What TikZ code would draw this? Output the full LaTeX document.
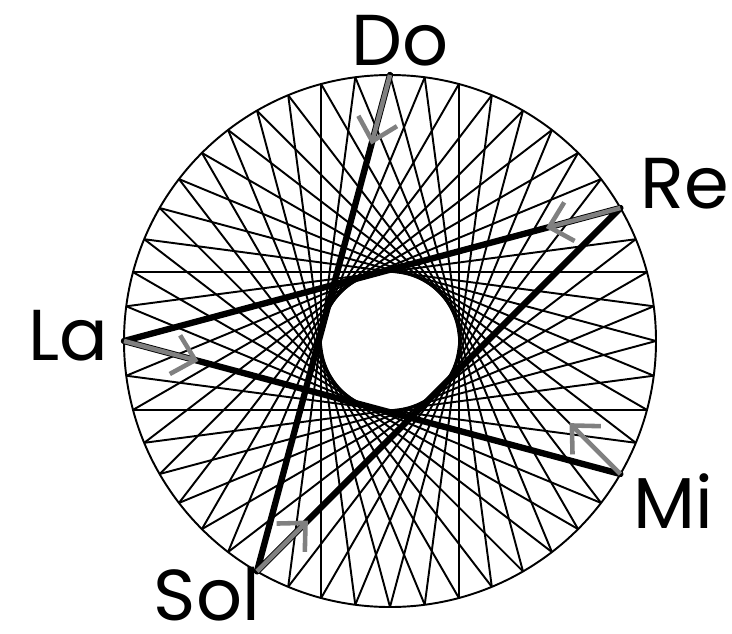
\documentclass[tikz,border=0pt]{standalone}
\usepackage{fontspec}
\setmainfont{Poppins}
\usetikzlibrary{calc,arrows.meta}

\begin{document}
\begin{tikzpicture}[x=0.02cm,y=0.02cm,
      chord/.style={line width=1.1pt},
      fifth/.style={line width=3.6pt,line cap=round,line join=round},
      hint/.style={draw=gray,line width=2.6pt,-{Straight Barb[length=0.42cm,width=0.8cm]}},
      note/.style={font=\fontsize{41}{48}\selectfont,inner sep=0pt}]
    \useasboundingbox (-390,-292) rectangle (342,341);
    \def\R{266}
    \foreach \i in {0,...,47}
      \coordinate (p\i) at ({90-7.5*\i}:\R);
    \foreach \i in {0,...,47}{
      \pgfmathtruncatemacro{\j}{mod(\i+20,48)}
      \draw[chord] (p\i) -- (p\j);
    }
    \draw[chord] (0,0) circle (\R);
    \coordinate (Do)  at (p0);
    \coordinate (Re)  at (p8);
    \coordinate (Mi)  at (p16);
    \coordinate (Sol) at (p28);
    \coordinate (La)  at (p36);
    \coordinate (Si)  at (p44);
    \draw[fifth] (Do) -- (Sol) -- (Re) -- (La) -- (Mi);
    \draw[hint] (Do)  -- ($(Do)!0.14!(Sol)$);
    \draw[hint] (Sol) -- ($(Sol)!0.14!(Re)$);
    \draw[hint] (Re)  -- ($(Re)!0.15!(La)$);
    \draw[hint] (La)  -- ($(La)!0.15!(Mi)$);
    \draw[hint] (Mi)  -- ($(Mi)!0.14!(Si)$);
    \node[note] (lDo) at (10,300) {Do};
    \node[note,anchor=west] (lRe) at (250,157) {Re};
    \node[note] (lMi) at (283,-160) {Mi};
    \node[note] (lLa) at (-322,5) {La};
    \node[note] (lSol) at (-183,-253) {Sol};
  \end{tikzpicture}
\end{document}
